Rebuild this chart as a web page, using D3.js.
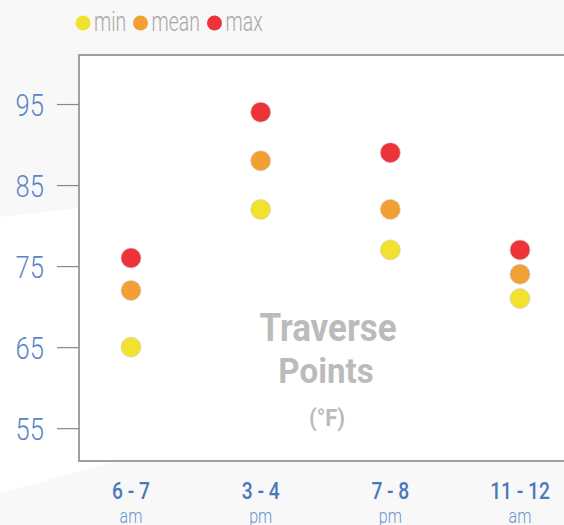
<!DOCTYPE html>
<html>
<head>
<meta charset="utf-8">
<script src="https://cdn.jsdelivr.net/npm/d3@7"></script>
<style>
  body { margin: 0; background: #f8f8f8; }
  text { font-family: Roboto, "Noto Sans", sans-serif; }
</style>
</head>
<body>
<div id="chart"></div>
<script>
const categories = ["6 - 7", "3 - 4", "7 - 8", "11 - 12"];
const periods = ["am", "pm", "pm", "am"];
const minValues = [65, 82, 77, 71];
const meanValues = [72, 88, 82, 74];
const maxValues = [76, 94, 89, 77];
const yTicks = [55, 65, 75, 85, 95];

const series = [
    { name: "min", values: minValues, color: "#f2e12e" },
    { name: "mean", values: meanValues, color: "#f2a033" },
    { name: "max", values: maxValues, color: "#ee3338" }
];

const width = 564;
const height = 525;
const margin = { top: 55, right: -20, bottom: 64, left: 79 };
const condense = 0.8;

const svg = d3.select("#chart")
    .append("svg")
    .attr("width", width)
    .attr("height", height);

// background with the white diagonal band
svg.append("rect")
    .attr("width", width)
    .attr("height", height)
    .attr("fill", "#f8f8f8");
svg.append("polygon")
    .attr("points", "0,217 200,194 200,439 0,493")
    .attr("fill", "#ffffff");

// plot frame
svg.append("rect")
    .attr("x", margin.left)
    .attr("y", margin.top)
    .attr("width", width - margin.left - margin.right)
    .attr("height", height - margin.top - margin.bottom)
    .attr("fill", "#ffffff")
    .attr("stroke", "#a0a0a0")
    .attr("stroke-width", 2);

const x = d3.scalePoint()
    .domain(categories)
    .range([131, 520]);

const y = d3.scaleLinear()
    .domain([50.95, 101.05])
    .range([height - margin.bottom, margin.top]);

// y axis
const yAxis = svg.append("g")
    .attr("transform", `translate(${margin.left},0)`)
    .call(d3.axisLeft(y).tickValues(yTicks).tickSize(22).tickPadding(0));
yAxis.select(".domain").remove();
yAxis.selectAll(".tick line").attr("stroke", "#888").attr("stroke-width", 1.2);
yAxis.selectAll(".tick text")
    .attr("x", null)
    .attr("dy", null)
    .attr("transform", `translate(-35,11) scale(${condense},1)`)
    .attr("fill", "#5a86c6")
    .attr("font-size", 32)
    .attr("font-weight", 300);

// x labels
const xg = svg.append("g")
    .selectAll("g")
    .data(categories)
    .join("g")
    .attr("transform", d => `translate(${x(d)},0)`);
xg.append("text")
    .attr("transform", `translate(0,499) scale(${condense},1)`)
    .attr("text-anchor", "middle")
    .attr("fill", "#4a78b9")
    .attr("font-size", 24)
    .attr("font-weight", 500)
    .text(d => d);
xg.append("text")
    .attr("transform", `translate(0,523) scale(${condense},1)`)
    .attr("text-anchor", "middle")
    .attr("fill", "#6d95cf")
    .attr("font-size", 20)
    .attr("font-weight", 300)
    .text((d, i) => periods[i]);

// center title
const title = svg.append("g").attr("fill", "#bbbbbb").attr("font-weight", 700).attr("text-anchor", "middle");
title.append("text").attr("transform", "translate(328,341) scale(0.92,1)").attr("font-size", 38).text("Traverse");
title.append("text").attr("transform", "translate(326,383) scale(0.92,1)").attr("font-size", 36).text("Points");
title.append("text").attr("transform", "translate(327,426) scale(0.92,1)").attr("font-size", 24).text("(°F)");

// dots
series.forEach(s => {
    svg.append("g")
        .selectAll("circle")
        .data(s.values)
        .join("circle")
        .attr("cx", (d, i) => x(categories[i]))
        .attr("cy", d => y(d))
        .attr("r", 10)
        .attr("fill", s.color)
        .attr("stroke", "#cccccc")
        .attr("stroke-width", 0.6);
});

// legend
const legendX = [83, 140.5, 214.5];
const legend = svg.append("g")
    .selectAll("g")
    .data(series)
    .join("g")
    .attr("transform", (d, i) => `translate(${legendX[i]},23)`);
legend.append("circle")
    .attr("r", 7.5)
    .attr("fill", d => d.color);
legend.append("text")
    .attr("transform", `translate(11,8) scale(0.72,1)`)
    .attr("fill", "#a8a8a8")
    .attr("font-size", 27)
    .attr("font-weight", 300)
    .text(d => d.name);
</script>
</body>
</html>
